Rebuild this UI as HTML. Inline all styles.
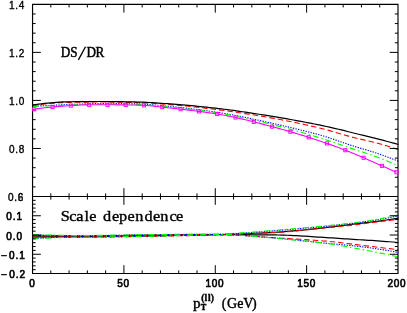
<!DOCTYPE html>
<html><head><meta charset="utf-8"><title>chart</title>
<style>html,body{margin:0;padding:0;background:#fff;}svg{display:block;will-change:transform;}</style>
</head><body>
<svg width="407" height="313" viewBox="0 0 407 313">
<rect width="407" height="313" fill="#fff"/>
<g fill="none" stroke-width="1.10">
<path d="M32.5,236.90 L35.5,236.90 L38.5,236.90 L41.5,236.90 L44.5,236.90 L47.5,236.89 L50.5,236.88 L53.5,236.85 L56.5,236.83 L59.5,236.80 L62.5,236.79 L65.5,236.77 L68.5,236.75 L71.5,236.74 L74.5,236.72 L77.5,236.70 L80.5,236.68 L83.5,236.66 L86.5,236.63 L89.5,236.60 L92.5,236.57 L95.5,236.53 L98.5,236.50 L101.5,236.46 L104.5,236.42 L107.5,236.38 L110.5,236.34 L113.5,236.30 L116.5,236.26 L119.5,236.22 L122.5,236.18 L125.5,236.13 L128.5,236.09 L131.5,236.05 L134.5,236.01 L137.5,235.96 L140.5,235.92 L143.5,235.87 L146.5,235.82 L149.5,235.77 L152.5,235.72 L155.5,235.67 L158.5,235.62 L161.5,235.57 L164.5,235.52 L167.5,235.47 L170.5,235.42 L173.5,235.37 L176.5,235.32 L179.5,235.28 L182.5,235.23 L185.5,235.18 L188.5,235.14 L191.5,235.09 L194.5,235.05 L197.5,235.00 L200.5,234.95 L203.5,234.91 L206.5,234.86 L209.5,234.80 L212.5,234.75 L215.5,234.69 L218.5,234.63 L221.5,234.57 L224.5,234.49 L227.5,234.41 L230.5,234.33 L233.5,234.23 L236.5,234.13 L239.5,234.02 L242.5,233.91 L245.5,233.79 L248.5,233.66 L251.5,233.53 L254.5,233.39 L257.5,233.24 L260.5,233.09 L263.5,232.94 L266.5,232.77 L269.5,232.61 L272.5,232.43 L275.5,232.25 L278.5,232.07 L281.5,231.87 L284.5,231.65 L287.5,231.42 L290.5,231.17 L293.5,230.91 L296.5,230.63 L299.5,230.34 L302.5,230.05 L305.5,229.74 L308.5,229.43 L311.5,229.11 L314.5,228.78 L317.5,228.46 L320.5,228.13 L323.5,227.79 L326.5,227.46 L329.5,227.13 L332.5,226.79 L335.5,226.43 L338.5,226.05 L341.5,225.67 L344.5,225.29 L347.5,224.90 L350.5,224.51 L353.5,224.13 L356.5,223.76 L359.5,223.40 L362.5,223.05 L365.5,222.71 L368.5,222.37 L371.5,222.01 L374.5,221.65 L377.5,221.27 L380.5,220.86 L383.5,220.44 L386.5,220.00 L389.5,219.55 L392.5,219.08 L395.5,218.60 L398.5,218.10" stroke="#000" stroke-width="1.22"/>
<path d="M32.5,235.40 L35.5,235.48 L38.5,235.56 L41.5,235.63 L44.5,235.69 L47.5,235.74 L50.5,235.78 L53.5,235.82 L56.5,235.86 L59.5,235.89 L62.5,235.93 L65.5,235.98 L68.5,236.02 L71.5,236.06 L74.5,236.09 L77.5,236.10 L80.5,236.10 L83.5,236.09 L86.5,236.07 L89.5,236.04 L92.5,236.01 L95.5,235.98 L98.5,235.94 L101.5,235.90 L104.5,235.85 L107.5,235.81 L110.5,235.76 L113.5,235.71 L116.5,235.66 L119.5,235.62 L122.5,235.57 L125.5,235.53 L128.5,235.49 L131.5,235.46 L134.5,235.42 L137.5,235.39 L140.5,235.35 L143.5,235.31 L146.5,235.28 L149.5,235.24 L152.5,235.20 L155.5,235.17 L158.5,235.13 L161.5,235.09 L164.5,235.06 L167.5,235.02 L170.5,234.99 L173.5,234.95 L176.5,234.92 L179.5,234.88 L182.5,234.84 L185.5,234.80 L188.5,234.76 L191.5,234.72 L194.5,234.67 L197.5,234.63 L200.5,234.60 L203.5,234.56 L206.5,234.54 L209.5,234.52 L212.5,234.50 L215.5,234.50 L218.5,234.51 L221.5,234.54 L224.5,234.57 L227.5,234.60 L230.5,234.62 L233.5,234.64 L236.5,234.66 L239.5,234.68 L242.5,234.70 L245.5,234.71 L248.5,234.73 L251.5,234.75 L254.5,234.77 L257.5,234.79 L260.5,234.82 L263.5,234.84 L266.5,234.87 L269.5,234.90 L272.5,234.93 L275.5,234.97 L278.5,235.01 L281.5,235.07 L284.5,235.15 L287.5,235.25 L290.5,235.38 L293.5,235.52 L296.5,235.68 L299.5,235.85 L302.5,236.03 L305.5,236.22 L308.5,236.42 L311.5,236.62 L314.5,236.82 L317.5,237.03 L320.5,237.23 L323.5,237.42 L326.5,237.61 L329.5,237.79 L332.5,237.98 L335.5,238.17 L338.5,238.37 L341.5,238.57 L344.5,238.77 L347.5,238.97 L350.5,239.18 L353.5,239.37 L356.5,239.57 L359.5,239.76 L362.5,239.94 L365.5,240.12 L368.5,240.30 L371.5,240.48 L374.5,240.67 L377.5,240.87 L380.5,241.08 L383.5,241.29 L386.5,241.52 L389.5,241.76 L392.5,242.00 L395.5,242.25 L398.5,242.50" stroke="#000" stroke-width="1.22"/>
<path d="M32.5,237.30 L35.5,237.27 L38.5,237.23 L41.5,237.21 L44.5,237.20 L47.5,237.20 L50.5,237.20 L53.5,237.20 L56.5,237.20 L59.5,237.20 L62.5,237.20 L65.5,237.20 L68.5,237.20 L71.5,237.20 L74.5,237.20 L77.5,237.20 L80.5,237.20 L83.5,237.19 L86.5,237.18 L89.5,237.16 L92.5,237.14 L95.5,237.11 L98.5,237.08 L101.5,237.05 L104.5,237.01 L107.5,236.97 L110.5,236.94 L113.5,236.90 L116.5,236.85 L119.5,236.81 L122.5,236.77 L125.5,236.73 L128.5,236.69 L131.5,236.65 L134.5,236.61 L137.5,236.57 L140.5,236.52 L143.5,236.47 L146.5,236.42 L149.5,236.36 L152.5,236.31 L155.5,236.25 L158.5,236.20 L161.5,236.14 L164.5,236.08 L167.5,236.02 L170.5,235.96 L173.5,235.89 L176.5,235.83 L179.5,235.77 L182.5,235.71 L185.5,235.64 L188.5,235.58 L191.5,235.51 L194.5,235.44 L197.5,235.37 L200.5,235.30 L203.5,235.22 L206.5,235.15 L209.5,235.06 L212.5,234.98 L215.5,234.88 L218.5,234.78 L221.5,234.66 L224.5,234.54 L227.5,234.42 L230.5,234.30 L233.5,234.19 L236.5,234.08 L239.5,233.96 L242.5,233.85 L245.5,233.75 L248.5,233.63 L251.5,233.52 L254.5,233.41 L257.5,233.29 L260.5,233.16 L263.5,233.03 L266.5,232.90 L269.5,232.75 L272.5,232.60 L275.5,232.44 L278.5,232.27 L281.5,232.08 L284.5,231.87 L287.5,231.64 L290.5,231.39 L293.5,231.12 L296.5,230.85 L299.5,230.56 L302.5,230.26 L305.5,229.95 L308.5,229.64 L311.5,229.32 L314.5,229.00 L317.5,228.68 L320.5,228.37 L323.5,228.05 L326.5,227.75 L329.5,227.45 L332.5,227.16 L335.5,226.86 L338.5,226.57 L341.5,226.27 L344.5,225.96 L347.5,225.65 L350.5,225.33 L353.5,225.00 L356.5,224.66 L359.5,224.30 L362.5,223.91 L365.5,223.50 L368.5,223.08 L371.5,222.66 L374.5,222.25 L377.5,221.86 L380.5,221.49 L383.5,221.13 L386.5,220.77 L389.5,220.41 L392.5,220.07 L395.5,219.73 L398.5,219.40" stroke="#f00" stroke-dasharray="5.5 3"/>
<path d="M32.5,235.20 L35.5,235.32 L38.5,235.43 L41.5,235.52 L44.5,235.59 L47.5,235.64 L50.5,235.69 L53.5,235.72 L56.5,235.76 L59.5,235.79 L62.5,235.83 L65.5,235.88 L68.5,235.92 L71.5,235.96 L74.5,235.99 L77.5,236.00 L80.5,236.00 L83.5,235.99 L86.5,235.97 L89.5,235.94 L92.5,235.91 L95.5,235.88 L98.5,235.84 L101.5,235.80 L104.5,235.75 L107.5,235.71 L110.5,235.66 L113.5,235.61 L116.5,235.56 L119.5,235.52 L122.5,235.47 L125.5,235.43 L128.5,235.39 L131.5,235.36 L134.5,235.32 L137.5,235.28 L140.5,235.24 L143.5,235.21 L146.5,235.17 L149.5,235.13 L152.5,235.09 L155.5,235.05 L158.5,235.02 L161.5,234.98 L164.5,234.94 L167.5,234.91 L170.5,234.88 L173.5,234.85 L176.5,234.81 L179.5,234.79 L182.5,234.75 L185.5,234.72 L188.5,234.69 L191.5,234.66 L194.5,234.63 L197.5,234.60 L200.5,234.57 L203.5,234.55 L206.5,234.53 L209.5,234.51 L212.5,234.50 L215.5,234.50 L218.5,234.53 L221.5,234.60 L224.5,234.69 L227.5,234.78 L230.5,234.89 L233.5,235.01 L236.5,235.15 L239.5,235.31 L242.5,235.48 L245.5,235.67 L248.5,235.87 L251.5,236.08 L254.5,236.30 L257.5,236.52 L260.5,236.74 L263.5,236.97 L266.5,237.19 L269.5,237.41 L272.5,237.63 L275.5,237.83 L278.5,238.03 L281.5,238.22 L284.5,238.41 L287.5,238.59 L290.5,238.77 L293.5,238.95 L296.5,239.12 L299.5,239.30 L302.5,239.48 L305.5,239.67 L308.5,239.86 L311.5,240.05 L314.5,240.26 L317.5,240.47 L320.5,240.69 L323.5,240.93 L326.5,241.17 L329.5,241.43 L332.5,241.73 L335.5,242.05 L338.5,242.39 L341.5,242.76 L344.5,243.13 L347.5,243.51 L350.5,243.89 L353.5,244.27 L356.5,244.64 L359.5,245.00 L362.5,245.36 L365.5,245.72 L368.5,246.09 L371.5,246.45 L374.5,246.82 L377.5,247.19 L380.5,247.56 L383.5,247.93 L386.5,248.30 L389.5,248.67 L392.5,249.05 L395.5,249.42 L398.5,249.80" stroke="#f00" stroke-dasharray="5.5 3"/>
<path d="M32.5,238.60 L35.5,238.41 L38.5,238.23 L41.5,238.06 L44.5,237.92 L47.5,237.80 L50.5,237.68 L53.5,237.57 L56.5,237.48 L59.5,237.41 L62.5,237.36 L65.5,237.32 L68.5,237.29 L71.5,237.27 L74.5,237.24 L77.5,237.21 L80.5,237.17 L83.5,237.13 L86.5,237.09 L89.5,237.06 L92.5,237.02 L95.5,236.98 L98.5,236.94 L101.5,236.90 L104.5,236.86 L107.5,236.81 L110.5,236.77 L113.5,236.73 L116.5,236.68 L119.5,236.64 L122.5,236.59 L125.5,236.54 L128.5,236.49 L131.5,236.44 L134.5,236.39 L137.5,236.34 L140.5,236.28 L143.5,236.22 L146.5,236.16 L149.5,236.11 L152.5,236.05 L155.5,235.98 L158.5,235.92 L161.5,235.86 L164.5,235.79 L167.5,235.73 L170.5,235.66 L173.5,235.60 L176.5,235.53 L179.5,235.47 L182.5,235.40 L185.5,235.34 L188.5,235.28 L191.5,235.21 L194.5,235.15 L197.5,235.08 L200.5,235.01 L203.5,234.94 L206.5,234.86 L209.5,234.77 L212.5,234.68 L215.5,234.58 L218.5,234.47 L221.5,234.33 L224.5,234.18 L227.5,234.03 L230.5,233.86 L233.5,233.69 L236.5,233.51 L239.5,233.33 L242.5,233.13 L245.5,232.93 L248.5,232.73 L251.5,232.52 L254.5,232.30 L257.5,232.08 L260.5,231.86 L263.5,231.63 L266.5,231.40 L269.5,231.17 L272.5,230.93 L275.5,230.70 L278.5,230.46 L281.5,230.22 L284.5,229.98 L287.5,229.73 L290.5,229.48 L293.5,229.22 L296.5,228.96 L299.5,228.70 L302.5,228.43 L305.5,228.16 L308.5,227.88 L311.5,227.60 L314.5,227.32 L317.5,227.03 L320.5,226.74 L323.5,226.45 L326.5,226.15 L329.5,225.85 L332.5,225.55 L335.5,225.24 L338.5,224.93 L341.5,224.61 L344.5,224.28 L347.5,223.94 L350.5,223.60 L353.5,223.24 L356.5,222.86 L359.5,222.48 L362.5,222.07 L365.5,221.65 L368.5,221.21 L371.5,220.75 L374.5,220.28 L377.5,219.78 L380.5,219.27 L383.5,218.73 L386.5,218.17 L389.5,217.58 L392.5,216.97 L395.5,216.35 L398.5,215.70" stroke="#00f" stroke-dasharray="1.3 1.3"/>
<path d="M32.5,234.80 L35.5,234.91 L38.5,235.01 L41.5,235.10 L44.5,235.19 L47.5,235.26 L50.5,235.32 L53.5,235.38 L56.5,235.44 L59.5,235.49 L62.5,235.55 L65.5,235.62 L68.5,235.68 L71.5,235.74 L74.5,235.78 L77.5,235.80 L80.5,235.80 L83.5,235.78 L86.5,235.76 L89.5,235.73 L92.5,235.70 L95.5,235.65 L98.5,235.61 L101.5,235.56 L104.5,235.50 L107.5,235.45 L110.5,235.39 L113.5,235.34 L116.5,235.28 L119.5,235.23 L122.5,235.18 L125.5,235.13 L128.5,235.09 L131.5,235.05 L134.5,235.02 L137.5,234.98 L140.5,234.94 L143.5,234.90 L146.5,234.86 L149.5,234.82 L152.5,234.79 L155.5,234.75 L158.5,234.71 L161.5,234.68 L164.5,234.64 L167.5,234.61 L170.5,234.58 L173.5,234.54 L176.5,234.51 L179.5,234.49 L182.5,234.45 L185.5,234.42 L188.5,234.39 L191.5,234.36 L194.5,234.33 L197.5,234.30 L200.5,234.27 L203.5,234.25 L206.5,234.23 L209.5,234.21 L212.5,234.20 L215.5,234.20 L218.5,234.24 L221.5,234.33 L224.5,234.45 L227.5,234.58 L230.5,234.71 L233.5,234.85 L236.5,235.02 L239.5,235.20 L242.5,235.39 L245.5,235.60 L248.5,235.82 L251.5,236.05 L254.5,236.29 L257.5,236.53 L260.5,236.78 L263.5,237.04 L266.5,237.30 L269.5,237.56 L272.5,237.82 L275.5,238.08 L278.5,238.34 L281.5,238.61 L284.5,238.89 L287.5,239.17 L290.5,239.47 L293.5,239.77 L296.5,240.08 L299.5,240.40 L302.5,240.71 L305.5,241.04 L308.5,241.36 L311.5,241.68 L314.5,242.00 L317.5,242.32 L320.5,242.64 L323.5,242.95 L326.5,243.25 L329.5,243.55 L332.5,243.83 L335.5,244.11 L338.5,244.38 L341.5,244.65 L344.5,244.92 L347.5,245.21 L350.5,245.50 L353.5,245.81 L356.5,246.14 L359.5,246.49 L362.5,246.86 L365.5,247.25 L368.5,247.64 L371.5,248.06 L374.5,248.49 L377.5,248.93 L380.5,249.38 L383.5,249.85 L386.5,250.34 L389.5,250.83 L392.5,251.34 L395.5,251.86 L398.5,252.40" stroke="#00f" stroke-dasharray="1.3 1.3"/>
<path d="M32.5,239.00 L35.5,238.78 L38.5,238.58 L41.5,238.39 L44.5,238.23 L47.5,238.08 L50.5,237.94 L53.5,237.81 L56.5,237.70 L59.5,237.61 L62.5,237.54 L65.5,237.49 L68.5,237.44 L71.5,237.39 L74.5,237.35 L77.5,237.31 L80.5,237.26 L83.5,237.22 L86.5,237.18 L89.5,237.13 L92.5,237.09 L95.5,237.05 L98.5,237.02 L101.5,236.98 L104.5,236.94 L107.5,236.90 L110.5,236.86 L113.5,236.82 L116.5,236.77 L119.5,236.73 L122.5,236.69 L125.5,236.64 L128.5,236.59 L131.5,236.54 L134.5,236.49 L137.5,236.44 L140.5,236.38 L143.5,236.33 L146.5,236.27 L149.5,236.21 L152.5,236.15 L155.5,236.09 L158.5,236.03 L161.5,235.97 L164.5,235.90 L167.5,235.84 L170.5,235.77 L173.5,235.70 L176.5,235.63 L179.5,235.57 L182.5,235.50 L185.5,235.43 L188.5,235.36 L191.5,235.29 L194.5,235.22 L197.5,235.14 L200.5,235.06 L203.5,234.98 L206.5,234.89 L209.5,234.80 L212.5,234.69 L215.5,234.58 L218.5,234.45 L221.5,234.29 L224.5,234.11 L227.5,233.93 L230.5,233.74 L233.5,233.55 L236.5,233.34 L239.5,233.13 L242.5,232.90 L245.5,232.68 L248.5,232.44 L251.5,232.20 L254.5,231.96 L257.5,231.71 L260.5,231.47 L263.5,231.21 L266.5,230.96 L269.5,230.71 L272.5,230.46 L275.5,230.21 L278.5,229.96 L281.5,229.71 L284.5,229.46 L287.5,229.21 L290.5,228.96 L293.5,228.71 L296.5,228.46 L299.5,228.20 L302.5,227.94 L305.5,227.68 L308.5,227.42 L311.5,227.15 L314.5,226.88 L317.5,226.60 L320.5,226.32 L323.5,226.04 L326.5,225.75 L329.5,225.45 L332.5,225.15 L335.5,224.85 L338.5,224.54 L341.5,224.22 L344.5,223.89 L347.5,223.55 L350.5,223.20 L353.5,222.84 L356.5,222.46 L359.5,222.07 L362.5,221.66 L365.5,221.23 L368.5,220.78 L371.5,220.31 L374.5,219.81 L377.5,219.29 L380.5,218.74 L383.5,218.14 L386.5,217.52 L389.5,216.86 L392.5,216.17 L395.5,215.45 L398.5,214.70" stroke="#0f0" stroke-dasharray="5.8 2.9 1.3 2.9"/>
<path d="M32.5,234.50 L35.5,234.64 L38.5,234.77 L41.5,234.89 L44.5,234.99 L47.5,235.06 L50.5,235.13 L53.5,235.18 L56.5,235.24 L59.5,235.29 L62.5,235.35 L65.5,235.42 L68.5,235.48 L71.5,235.54 L74.5,235.58 L77.5,235.60 L80.5,235.60 L83.5,235.58 L86.5,235.56 L89.5,235.53 L92.5,235.50 L95.5,235.45 L98.5,235.41 L101.5,235.36 L104.5,235.30 L107.5,235.25 L110.5,235.19 L113.5,235.14 L116.5,235.08 L119.5,235.03 L122.5,234.98 L125.5,234.93 L128.5,234.89 L131.5,234.85 L134.5,234.81 L137.5,234.77 L140.5,234.73 L143.5,234.69 L146.5,234.65 L149.5,234.61 L152.5,234.57 L155.5,234.53 L158.5,234.50 L161.5,234.46 L164.5,234.43 L167.5,234.39 L170.5,234.36 L173.5,234.34 L176.5,234.31 L179.5,234.29 L182.5,234.27 L185.5,234.24 L188.5,234.22 L191.5,234.20 L194.5,234.18 L197.5,234.16 L200.5,234.14 L203.5,234.13 L206.5,234.12 L209.5,234.11 L212.5,234.10 L215.5,234.10 L218.5,234.14 L221.5,234.23 L224.5,234.35 L227.5,234.48 L230.5,234.61 L233.5,234.76 L236.5,234.94 L239.5,235.13 L242.5,235.34 L245.5,235.57 L248.5,235.81 L251.5,236.06 L254.5,236.32 L257.5,236.59 L260.5,236.87 L263.5,237.15 L266.5,237.43 L269.5,237.71 L272.5,237.99 L275.5,238.27 L278.5,238.55 L281.5,238.82 L284.5,239.09 L287.5,239.36 L290.5,239.64 L293.5,239.92 L296.5,240.21 L299.5,240.50 L302.5,240.79 L305.5,241.10 L308.5,241.41 L311.5,241.73 L314.5,242.06 L317.5,242.40 L320.5,242.76 L323.5,243.12 L326.5,243.50 L329.5,243.90 L332.5,244.33 L335.5,244.79 L338.5,245.28 L341.5,245.79 L344.5,246.32 L347.5,246.86 L350.5,247.41 L353.5,247.96 L356.5,248.51 L359.5,249.06 L362.5,249.62 L365.5,250.18 L368.5,250.75 L371.5,251.33 L374.5,251.92 L377.5,252.51 L380.5,253.12 L383.5,253.73 L386.5,254.35 L389.5,254.97 L392.5,255.61 L395.5,256.25 L398.5,256.90" stroke="#0f0" stroke-dasharray="5.8 2.9 1.3 2.9"/>
<path d="M32.5,105.50 L35.5,105.12 L38.5,104.76 L41.5,104.40 L44.5,104.07 L47.5,103.75 L50.5,103.46 L53.5,103.19 L56.5,102.96 L59.5,102.76 L62.5,102.59 L65.5,102.47 L68.5,102.39 L71.5,102.33 L74.5,102.27 L77.5,102.21 L80.5,102.16 L83.5,102.12 L86.5,102.08 L89.5,102.05 L92.5,102.03 L95.5,102.01 L98.5,102.00 L101.5,102.00 L104.5,102.01 L107.5,102.03 L110.5,102.06 L113.5,102.10 L116.5,102.15 L119.5,102.20 L122.5,102.26 L125.5,102.32 L128.5,102.40 L131.5,102.47 L134.5,102.55 L137.5,102.63 L140.5,102.71 L143.5,102.82 L146.5,102.96 L149.5,103.12 L152.5,103.30 L155.5,103.50 L158.5,103.71 L161.5,103.94 L164.5,104.17 L167.5,104.40 L170.5,104.64 L173.5,104.88 L176.5,105.14 L179.5,105.41 L182.5,105.70 L185.5,105.99 L188.5,106.30 L191.5,106.61 L194.5,106.94 L197.5,107.27 L200.5,107.62 L203.5,107.97 L206.5,108.33 L209.5,108.69 L212.5,109.06 L215.5,109.43 L218.5,109.81 L221.5,110.19 L224.5,110.58 L227.5,110.99 L230.5,111.40 L233.5,111.82 L236.5,112.26 L239.5,112.70 L242.5,113.15 L245.5,113.62 L248.5,114.09 L251.5,114.57 L254.5,115.05 L257.5,115.55 L260.5,116.05 L263.5,116.57 L266.5,117.09 L269.5,117.61 L272.5,118.15 L275.5,118.69 L278.5,119.25 L281.5,119.82 L284.5,120.39 L287.5,120.98 L290.5,121.58 L293.5,122.20 L296.5,122.82 L299.5,123.46 L302.5,124.10 L305.5,124.76 L308.5,125.43 L311.5,126.11 L314.5,126.80 L317.5,127.50 L320.5,128.22 L323.5,128.97 L326.5,129.77 L329.5,130.61 L332.5,131.47 L335.5,132.35 L338.5,133.23 L341.5,134.12 L344.5,135.00 L347.5,135.87 L350.5,136.71 L353.5,137.51 L356.5,138.28 L359.5,138.98 L362.5,139.63 L365.5,140.27 L368.5,140.94 L371.5,141.68 L374.5,142.45 L377.5,143.26 L380.5,144.09 L383.5,144.94 L386.5,145.83 L389.5,146.75 L392.5,147.70 L395.5,148.68 L398.5,149.70" stroke="#f00" stroke-dasharray="5.5 3"/>
<path d="M32.5,106.30 L35.5,106.14 L38.5,105.98 L41.5,105.82 L44.5,105.67 L47.5,105.52 L50.5,105.37 L53.5,105.23 L56.5,105.09 L59.5,104.96 L62.5,104.83 L65.5,104.70 L68.5,104.58 L71.5,104.45 L74.5,104.32 L77.5,104.18 L80.5,104.04 L83.5,103.91 L86.5,103.79 L89.5,103.69 L92.5,103.60 L95.5,103.54 L98.5,103.50 L101.5,103.50 L104.5,103.51 L107.5,103.52 L110.5,103.54 L113.5,103.56 L116.5,103.59 L119.5,103.63 L122.5,103.67 L125.5,103.72 L128.5,103.77 L131.5,103.82 L134.5,103.88 L137.5,103.94 L140.5,104.01 L143.5,104.12 L146.5,104.29 L149.5,104.50 L152.5,104.74 L155.5,105.02 L158.5,105.32 L161.5,105.63 L164.5,105.94 L167.5,106.25 L170.5,106.55 L173.5,106.84 L176.5,107.15 L179.5,107.47 L182.5,107.80 L185.5,108.13 L188.5,108.48 L191.5,108.84 L194.5,109.20 L197.5,109.58 L200.5,109.96 L203.5,110.36 L206.5,110.77 L209.5,111.18 L212.5,111.61 L215.5,112.06 L218.5,112.51 L221.5,112.98 L224.5,113.47 L227.5,113.97 L230.5,114.49 L233.5,115.03 L236.5,115.60 L239.5,116.20 L242.5,116.81 L245.5,117.45 L248.5,118.09 L251.5,118.75 L254.5,119.40 L257.5,120.06 L260.5,120.71 L263.5,121.36 L266.5,122.02 L269.5,122.68 L272.5,123.35 L275.5,124.03 L278.5,124.71 L281.5,125.40 L284.5,126.10 L287.5,126.80 L290.5,127.52 L293.5,128.24 L296.5,128.96 L299.5,129.68 L302.5,130.41 L305.5,131.15 L308.5,131.91 L311.5,132.68 L314.5,133.48 L317.5,134.30 L320.5,135.14 L323.5,136.03 L326.5,136.97 L329.5,137.94 L332.5,138.94 L335.5,139.96 L338.5,141.00 L341.5,142.04 L344.5,143.08 L347.5,144.11 L350.5,145.12 L353.5,146.10 L356.5,147.05 L359.5,147.94 L362.5,148.80 L365.5,149.65 L368.5,150.53 L371.5,151.48 L374.5,152.46 L377.5,153.47 L380.5,154.50 L383.5,155.56 L386.5,156.65 L389.5,157.76 L392.5,158.91 L395.5,160.09 L398.5,161.30" stroke="#00f" stroke-dasharray="1.3 1.3"/>
<path d="M32.5,106.70 L35.5,106.53 L38.5,106.36 L41.5,106.20 L44.5,106.04 L47.5,105.88 L50.5,105.74 L53.5,105.59 L56.5,105.46 L59.5,105.33 L62.5,105.21 L65.5,105.09 L68.5,104.98 L71.5,104.87 L74.5,104.76 L77.5,104.64 L80.5,104.53 L83.5,104.43 L86.5,104.33 L89.5,104.25 L92.5,104.18 L95.5,104.13 L98.5,104.10 L101.5,104.10 L104.5,104.11 L107.5,104.12 L110.5,104.14 L113.5,104.16 L116.5,104.20 L119.5,104.23 L122.5,104.27 L125.5,104.32 L128.5,104.37 L131.5,104.42 L134.5,104.48 L137.5,104.55 L140.5,104.61 L143.5,104.72 L146.5,104.87 L149.5,105.07 L152.5,105.31 L155.5,105.57 L158.5,105.85 L161.5,106.15 L164.5,106.45 L167.5,106.76 L170.5,107.05 L173.5,107.34 L176.5,107.65 L179.5,107.96 L182.5,108.29 L185.5,108.62 L188.5,108.97 L191.5,109.33 L194.5,109.70 L197.5,110.08 L200.5,110.47 L203.5,110.87 L206.5,111.28 L209.5,111.71 L212.5,112.15 L215.5,112.60 L218.5,113.06 L221.5,113.54 L224.5,114.05 L227.5,114.58 L230.5,115.14 L233.5,115.72 L236.5,116.32 L239.5,116.94 L242.5,117.58 L245.5,118.24 L248.5,118.91 L251.5,119.60 L254.5,120.29 L257.5,121.00 L260.5,121.71 L263.5,122.43 L266.5,123.15 L269.5,123.88 L272.5,124.61 L275.5,125.36 L278.5,126.12 L281.5,126.89 L284.5,127.69 L287.5,128.49 L290.5,129.31 L293.5,130.13 L296.5,130.97 L299.5,131.83 L302.5,132.69 L305.5,133.56 L308.5,134.44 L311.5,135.33 L314.5,136.23 L317.5,137.14 L320.5,138.05 L323.5,138.99 L326.5,139.95 L329.5,140.94 L332.5,141.95 L335.5,142.97 L338.5,143.99 L341.5,145.03 L344.5,146.07 L347.5,147.10 L350.5,148.12 L353.5,149.14 L356.5,150.14 L359.5,151.10 L362.5,152.04 L365.5,152.99 L368.5,153.98 L371.5,155.03 L374.5,156.12 L377.5,157.24 L380.5,158.39 L383.5,159.58 L386.5,160.79 L389.5,162.04 L392.5,163.32 L395.5,164.64 L398.5,166.00" stroke="#0f0" stroke-dasharray="5.8 2.9 1.3 2.9"/>
<path d="M32.5,104.90 L35.5,104.52 L38.5,104.15 L41.5,103.79 L44.5,103.45 L47.5,103.13 L50.5,102.83 L53.5,102.56 L56.5,102.33 L59.5,102.13 L62.5,101.97 L65.5,101.86 L68.5,101.79 L71.5,101.74 L74.5,101.70 L77.5,101.66 L80.5,101.62 L83.5,101.59 L86.5,101.56 L89.5,101.54 L92.5,101.52 L95.5,101.51 L98.5,101.50 L101.5,101.50 L104.5,101.51 L107.5,101.53 L110.5,101.55 L113.5,101.58 L116.5,101.62 L119.5,101.67 L122.5,101.72 L125.5,101.78 L128.5,101.84 L131.5,101.90 L134.5,101.97 L137.5,102.04 L140.5,102.11 L143.5,102.21 L146.5,102.34 L149.5,102.49 L152.5,102.66 L155.5,102.85 L158.5,103.06 L161.5,103.27 L164.5,103.50 L167.5,103.72 L170.5,103.94 L173.5,104.16 L176.5,104.39 L179.5,104.64 L182.5,104.89 L185.5,105.15 L188.5,105.42 L191.5,105.70 L194.5,105.98 L197.5,106.28 L200.5,106.58 L203.5,106.89 L206.5,107.20 L209.5,107.52 L212.5,107.85 L215.5,108.19 L218.5,108.53 L221.5,108.88 L224.5,109.24 L227.5,109.62 L230.5,110.02 L233.5,110.43 L236.5,110.85 L239.5,111.28 L242.5,111.73 L245.5,112.17 L248.5,112.63 L251.5,113.09 L254.5,113.55 L257.5,114.01 L260.5,114.48 L263.5,114.95 L266.5,115.42 L269.5,115.91 L272.5,116.40 L275.5,116.90 L278.5,117.40 L281.5,117.91 L284.5,118.43 L287.5,118.96 L290.5,119.49 L293.5,120.02 L296.5,120.57 L299.5,121.11 L302.5,121.67 L305.5,122.23 L308.5,122.81 L311.5,123.39 L314.5,123.98 L317.5,124.59 L320.5,125.20 L323.5,125.84 L326.5,126.49 L329.5,127.16 L332.5,127.84 L335.5,128.54 L338.5,129.24 L341.5,129.96 L344.5,130.71 L347.5,131.48 L350.5,132.25 L353.5,133.02 L356.5,133.78 L359.5,134.50 L362.5,135.21 L365.5,135.91 L368.5,136.63 L371.5,137.37 L374.5,138.13 L377.5,138.89 L380.5,139.66 L383.5,140.44 L386.5,141.23 L389.5,142.03 L392.5,142.84 L395.5,143.67 L398.5,144.50" stroke="#000" stroke-width="1.22"/>
</g>
<g stroke="#000" stroke-width="1.15" fill="none" stroke-linecap="butt">
<path d="M32.55,4.35 H398.0 V273.5 H32.55 Z M32.55,196.5 H398.0"/>
<path stroke-width="1.0" d="M50.82,4.35 v3.1 M50.82,193.4 v6.2 M50.82,273.5 v-3.1 M69.09,4.35 v3.1 M69.09,193.4 v6.2 M69.09,273.5 v-3.1 M87.37,4.35 v3.1 M87.37,193.4 v6.2 M87.37,273.5 v-3.1 M105.64,4.35 v3.1 M105.64,193.4 v6.2 M105.64,273.5 v-3.1 M123.91,4.35 v8.3 M123.91,188.2 v16.6 M123.91,273.5 v-8.3 M142.19,4.35 v3.1 M142.19,193.4 v6.2 M142.19,273.5 v-3.1 M160.46,4.35 v3.1 M160.46,193.4 v6.2 M160.46,273.5 v-3.1 M178.73,4.35 v3.1 M178.73,193.4 v6.2 M178.73,273.5 v-3.1 M197.00,4.35 v3.1 M197.00,193.4 v6.2 M197.00,273.5 v-3.1 M215.27,4.35 v8.3 M215.27,188.2 v16.6 M215.27,273.5 v-8.3 M233.55,4.35 v3.1 M233.55,193.4 v6.2 M233.55,273.5 v-3.1 M251.82,4.35 v3.1 M251.82,193.4 v6.2 M251.82,273.5 v-3.1 M270.09,4.35 v3.1 M270.09,193.4 v6.2 M270.09,273.5 v-3.1 M288.37,4.35 v3.1 M288.37,193.4 v6.2 M288.37,273.5 v-3.1 M306.64,4.35 v8.3 M306.64,188.2 v16.6 M306.64,273.5 v-8.3 M324.91,4.35 v3.1 M324.91,193.4 v6.2 M324.91,273.5 v-3.1 M343.18,4.35 v3.1 M343.18,193.4 v6.2 M343.18,273.5 v-3.1 M361.45,4.35 v3.1 M361.45,193.4 v6.2 M361.45,273.5 v-3.1 M379.73,4.35 v3.1 M379.73,193.4 v6.2 M379.73,273.5 v-3.1 M32.55,13.96 h3.1 M398.0,13.96 h-3.1 M32.55,23.56 h3.1 M398.0,23.56 h-3.1 M32.55,33.17 h3.1 M398.0,33.17 h-3.1 M32.55,42.78 h3.1 M398.0,42.78 h-3.1 M32.55,52.39 h8.3 M398.0,52.39 h-8.3 M32.55,62.00 h3.1 M398.0,62.00 h-3.1 M32.55,71.60 h3.1 M398.0,71.60 h-3.1 M32.55,81.21 h3.1 M398.0,81.21 h-3.1 M32.55,90.82 h3.1 M398.0,90.82 h-3.1 M32.55,100.42 h8.3 M398.0,100.42 h-8.3 M32.55,110.03 h3.1 M398.0,110.03 h-3.1 M32.55,119.64 h3.1 M398.0,119.64 h-3.1 M32.55,129.25 h3.1 M398.0,129.25 h-3.1 M32.55,138.85 h3.1 M398.0,138.85 h-3.1 M32.55,148.46 h8.3 M398.0,148.46 h-8.3 M32.55,158.07 h3.1 M398.0,158.07 h-3.1 M32.55,167.68 h3.1 M398.0,167.68 h-3.1 M32.55,177.28 h3.1 M398.0,177.28 h-3.1 M32.55,186.89 h3.1 M398.0,186.89 h-3.1 M32.55,200.35 h3.1 M398.0,200.35 h-3.1 M32.55,204.20 h3.1 M398.0,204.20 h-3.1 M32.55,208.05 h3.1 M398.0,208.05 h-3.1 M32.55,211.90 h3.1 M398.0,211.90 h-3.1 M32.55,215.75 h8.3 M398.0,215.75 h-8.3 M32.55,219.60 h3.1 M398.0,219.60 h-3.1 M32.55,223.45 h3.1 M398.0,223.45 h-3.1 M32.55,227.30 h3.1 M398.0,227.30 h-3.1 M32.55,231.15 h3.1 M398.0,231.15 h-3.1 M32.55,235.00 h8.3 M398.0,235.00 h-8.3 M32.55,238.85 h3.1 M398.0,238.85 h-3.1 M32.55,242.70 h3.1 M398.0,242.70 h-3.1 M32.55,246.55 h3.1 M398.0,246.55 h-3.1 M32.55,250.40 h3.1 M398.0,250.40 h-3.1 M32.55,254.25 h8.3 M398.0,254.25 h-8.3 M32.55,258.10 h3.1 M398.0,258.10 h-3.1 M32.55,261.95 h3.1 M398.0,261.95 h-3.1 M32.55,265.80 h3.1 M398.0,265.80 h-3.1 M32.55,269.65 h3.1 M398.0,269.65 h-3.1"/>
</g>
<path d="M32.5,109.70 L35.5,109.07 L38.5,108.60 L41.5,108.19 L44.5,107.82 L47.5,107.49 L50.5,107.19 L53.5,106.91 L56.5,106.63 L59.5,106.38 L62.5,106.14 L65.5,105.93 L68.5,105.73 L71.5,105.56 L74.5,105.38 L77.5,105.21 L80.5,105.05 L83.5,104.92 L86.5,104.83 L89.5,104.80 L92.5,104.80 L95.5,104.80 L98.5,104.80 L101.5,104.80 L104.5,104.80 L107.5,104.80 L110.5,104.80 L113.5,104.81 L116.5,104.83 L119.5,104.85 L122.5,104.87 L125.5,104.90 L128.5,104.93 L131.5,104.98 L134.5,105.05 L137.5,105.12 L140.5,105.22 L143.5,105.35 L146.5,105.55 L149.5,105.79 L152.5,106.06 L155.5,106.37 L158.5,106.70 L161.5,107.04 L164.5,107.39 L167.5,107.73 L170.5,108.05 L173.5,108.38 L176.5,108.71 L179.5,109.04 L182.5,109.38 L185.5,109.73 L188.5,110.08 L191.5,110.44 L194.5,110.82 L197.5,111.20 L200.5,111.59 L203.5,112.00 L206.5,112.42 L209.5,112.86 L212.5,113.30 L215.5,113.77 L218.5,114.25 L221.5,114.75 L224.5,115.29 L227.5,115.86 L230.5,116.46 L233.5,117.08 L236.5,117.74 L239.5,118.42 L242.5,119.11 L245.5,119.83 L248.5,120.57 L251.5,121.31 L254.5,122.07 L257.5,122.84 L260.5,123.62 L263.5,124.40 L266.5,125.19 L269.5,125.97 L272.5,126.76 L275.5,127.56 L278.5,128.37 L281.5,129.20 L284.5,130.04 L287.5,130.90 L290.5,131.76 L293.5,132.65 L296.5,133.54 L299.5,134.45 L302.5,135.37 L305.5,136.30 L308.5,137.25 L311.5,138.21 L314.5,139.18 L317.5,140.17 L320.5,141.17 L323.5,142.19 L326.5,143.23 L329.5,144.29 L332.5,145.37 L335.5,146.48 L338.5,147.60 L341.5,148.74 L344.5,149.90 L347.5,151.08 L350.5,152.27 L353.5,153.48 L356.5,154.70 L359.5,155.95 L362.5,157.26 L365.5,158.60 L368.5,159.94 L371.5,161.26 L374.5,162.58 L377.5,163.90 L380.5,165.22 L383.5,166.55 L386.5,167.87 L389.5,169.20 L392.5,170.53 L395.5,171.86 L396.5,172.30" stroke="#f0f" stroke-width="1.1" fill="none"/>
<g fill="none" stroke="#f0f" stroke-width="0.95"><rect x="32.65" y="107.75" width="3.1" height="3.1"/><rect x="50.95" y="105.45" width="3.1" height="3.1"/><rect x="69.25" y="104.05" width="3.1" height="3.1"/><rect x="87.55" y="103.25" width="3.1" height="3.1"/><rect x="105.85" y="103.25" width="3.1" height="3.1"/><rect x="124.15" y="103.35" width="3.1" height="3.1"/><rect x="142.45" y="103.83" width="3.1" height="3.1"/><rect x="160.75" y="105.58" width="3.1" height="3.1"/><rect x="179.05" y="107.61" width="3.1" height="3.1"/><rect x="197.35" y="109.83" width="3.1" height="3.1"/><rect x="215.65" y="112.49" width="3.1" height="3.1"/><rect x="233.95" y="115.97" width="3.1" height="3.1"/><rect x="252.25" y="120.35" width="3.1" height="3.1"/><rect x="270.55" y="125.10" width="3.1" height="3.1"/><rect x="288.85" y="130.19" width="3.1" height="3.1"/><rect x="307.15" y="135.76" width="3.1" height="3.1"/><rect x="325.45" y="141.85" width="3.1" height="3.1"/><rect x="343.75" y="148.66" width="3.1" height="3.1"/><rect x="362.05" y="156.20" width="3.1" height="3.1"/><rect x="380.35" y="164.29" width="3.1" height="3.1"/><rect x="394.85" y="170.71" width="3.1" height="3.1"/></g>
<g font-family="Liberation Sans, sans-serif" font-size="10" fill="#000" stroke="#000" stroke-width="0.35" letter-spacing="0.75">
<text x="9" y="8.6">1.4</text>
<text x="9" y="56.7">1.2</text>
<text x="9" y="104.7">1.0</text>
<text x="9" y="152.8">0.8</text>
</g>
<g font-family="Liberation Sans, sans-serif" font-size="10" fill="#000" stroke="#000" stroke-width="0.62" letter-spacing="0.75">
<text x="7.9" y="200.8" stroke-width="0.4">0.6</text><text x="17.75" y="200.8" stroke="none" fill-opacity="0.6">2</text>
<text x="6.3" y="220.3" letter-spacing="0.95">0.1</text>
<text x="6.3" y="239.5" letter-spacing="0.95">0.0</text>
<text x="9.0" y="258.7" letter-spacing="0.95">0.1</text>
<text x="9.2" y="277.9" letter-spacing="0.95">0.2</text>
<text x="1.2" y="258.7">−</text>
<text x="1.2" y="277.9">−</text>
<text x="32.4" y="287.3" text-anchor="middle" letter-spacing="0.7">0</text>
<text x="123.6" y="287.3" text-anchor="middle" letter-spacing="0.7">50</text>
<text x="214.8" y="287.3" text-anchor="middle" letter-spacing="0.7">100</text>
<text x="306.6" y="287.3" text-anchor="middle" letter-spacing="0.7">150</text>
<text x="396.9" y="287.3" text-anchor="middle" letter-spacing="0.7">200</text>
</g>
<text font-family="Liberation Serif, serif" fill="#000" stroke="#000" stroke-width="0.47" font-size="14.0" x="64.68 74.68 92.13 101.70" y="57.0" transform="scale(0.94,1)">DSDR</text>
<path d="M78.4,59.9 L85.5,46.7" stroke="#000" stroke-width="1.3" fill="none"/>
<text font-family="Liberation Serif, serif" fill="#000" stroke="#000" stroke-width="0.36" font-size="14.8" x="55.27 63.00 69.27 76.82 81.09 93.64 101.73 108.18 116.00 122.91 131.27 139.00 145.64 154.09 160.00" y="221.4" transform="scale(1.1,1)">Scaledependence</text>
<text font-family="Liberation Serif, serif" fill="#000" stroke="#000" stroke-width="0.4" font-size="14" x="178.61" y="307.8" transform="scale(1.08,1)">p</text>
<text font-family="Liberation Serif, serif" fill="#000" stroke="#000" stroke-width="0.4" font-size="8.3" x="200.80" y="310.2" font-weight="bold">T</text>
<text font-family="Liberation Serif, serif" fill="#000" stroke="#000" stroke-width="0.4" font-size="9.6" x="201.30 204.60 207.90 210.70" y="301.4" font-weight="bold">(ll)</text>
<text font-family="Liberation Serif, serif" fill="#000" stroke="#000" stroke-width="0.4" font-size="14" x="221.70 227.10 237.30 243.30 252.00" y="308">(GeV)</text>
</svg>
</body></html>
